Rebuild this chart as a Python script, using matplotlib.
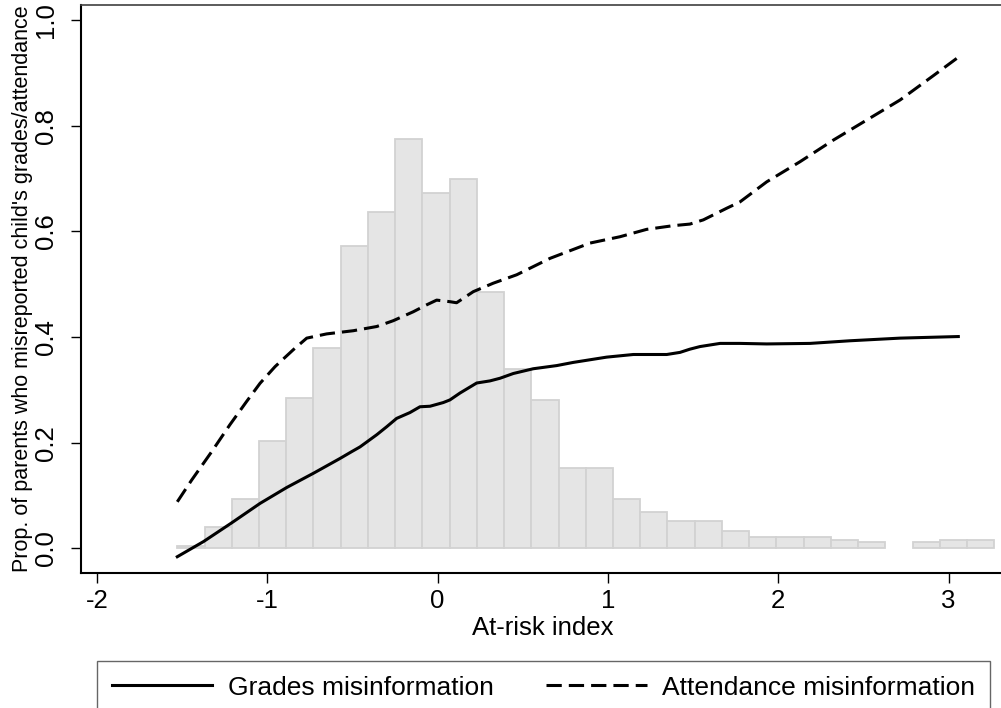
import numpy as np
import matplotlib
matplotlib.use("Agg")
import matplotlib.pyplot as plt

plt.rcParams['font.family'] = ['Liberation Sans', 'DejaVu Sans']

# histogram of the at-risk index (30 equal-width bins)
bin_start = -1.529
bin_width = 0.1599
bin_heights = [0.005, 0.040, 0.093, 0.204, 0.285, 0.379, 0.573, 0.636, 0.776, 0.672,
               0.700, 0.485, 0.339, 0.280, 0.152, 0.152, 0.093, 0.069, 0.052, 0.052,
               0.033, 0.022, 0.022, 0.022, 0.016, 0.011, 0.0, 0.011, 0.016, 0.016]

# smoothed share of parents misreporting, by at-risk index
grades_x = [-1.529, -1.376, -1.215, -1.043, -0.887, -0.730, -0.574, -0.505, -0.456, -0.358,
            -0.300, -0.241, -0.163, -0.104, -0.045, 0.033, 0.072, 0.131, 0.229, 0.307,
            0.366, 0.444, 0.561, 0.699, 0.796, 0.992, 1.149, 1.345, 1.423, 1.480,
            1.540, 1.658, 1.775, 1.932, 2.186, 2.421, 2.715, 3.057]
grades_y = [-0.016, 0.0125, 0.047, 0.085, 0.115, 0.142, 0.170, 0.183, 0.192, 0.215,
            0.230, 0.246, 0.257, 0.268, 0.269, 0.276, 0.281, 0.294, 0.313, 0.317,
            0.322, 0.331, 0.340, 0.346, 0.352, 0.362, 0.367, 0.367, 0.371, 0.377,
            0.382, 0.388, 0.388, 0.387, 0.388, 0.393, 0.398, 0.401]

attend_x = [-1.529, -1.445, -1.327, -1.220, -1.122, -1.043, -0.955, -0.848, -0.769, -0.652,
            -0.496, -0.358, -0.261, -0.143, -0.065, -0.006, 0.072, 0.111, 0.209, 0.326,
            0.464, 0.659, 0.894, 1.070, 1.227, 1.383, 1.481, 1.560, 1.697, 1.775,
            1.932, 2.127, 2.323, 2.519, 2.715, 2.910, 3.057]
attend_y = [0.088, 0.129, 0.183, 0.234, 0.278, 0.3125, 0.344, 0.376, 0.398, 0.406,
            0.412, 0.420, 0.431, 0.448, 0.461, 0.470, 0.467, 0.465, 0.486, 0.502,
            0.518, 0.549, 0.578, 0.590, 0.604, 0.611, 0.614, 0.622, 0.644, 0.656,
            0.694, 0.732, 0.773, 0.811, 0.849, 0.895, 0.930]

xticks = [-2, -1, 0, 1, 2, 3]
yticks = [0.0, 0.2, 0.4, 0.6, 0.8, 1.0]

fig = plt.figure(figsize=(10.01, 7.08), dpi=100)
ax = fig.add_axes([0.0809, 0.1907, 0.9231, 0.8023])

heights = np.array(bin_heights)
lefts = bin_start + bin_width * np.arange(len(heights))
keep = heights > 0
ax.bar(lefts[keep], heights[keep], width=bin_width, align='edge',
       color='#e5e5e5', edgecolor='#d2d2d2', linewidth=1.3, zorder=1)

ax.plot(grades_x, grades_y, color='black', lw=2.2, zorder=3,
        label='Grades misinformation')
ax.plot(attend_x, attend_y, color='black', lw=2.2, zorder=3,
        linestyle=(0, (5, 2.3)), label='Attendance misinformation')

ax.set_xlim(-2.0945, 3.3312)
ax.set_ylim(-0.0468, 1.029)
ax.set_xticks(xticks)
ax.set_xticklabels([str(t) for t in xticks])
ax.set_yticks(yticks)
ax.set_yticklabels([f'{t:.1f}' for t in yticks], rotation=90, va='center')
ax.tick_params(axis='both', direction='out', length=7.5, width=1.0,
               labelsize=18.5, color='black')
ax.tick_params(axis='x', pad=4)
ax.tick_params(axis='y', pad=9)

for side in ['left', 'bottom']:
    ax.spines[side].set_linewidth(1.5)
    ax.spines[side].set_color('black')
ax.spines['top'].set_linewidth(1.2)
ax.spines['top'].set_color('#404040')
ax.spines['right'].set_visible(False)

ax.set_xlabel('At-risk index', fontsize=18.5, va='center')
ax.xaxis.set_label_coords(0.5, -0.097)
ax.set_ylabel("Prop. of parents who misreported child's grades/attendance",
              fontsize=15.5, va='center')
ax.yaxis.set_label_coords(-0.063, 0.5)

leg = fig.legend(loc='upper left', bbox_to_anchor=(97 / 1001, 1 - 661 / 708),
                 ncol=2, fontsize=19, handlelength=3.8, handletextpad=0.6,
                 columnspacing=2.0, borderpad=0.55, borderaxespad=0,
                 fancybox=False, frameon=True)
leg.get_frame().set_edgecolor('#404040')
leg.get_frame().set_linewidth(1.0)

fig.savefig('out.png', dpi=100)
